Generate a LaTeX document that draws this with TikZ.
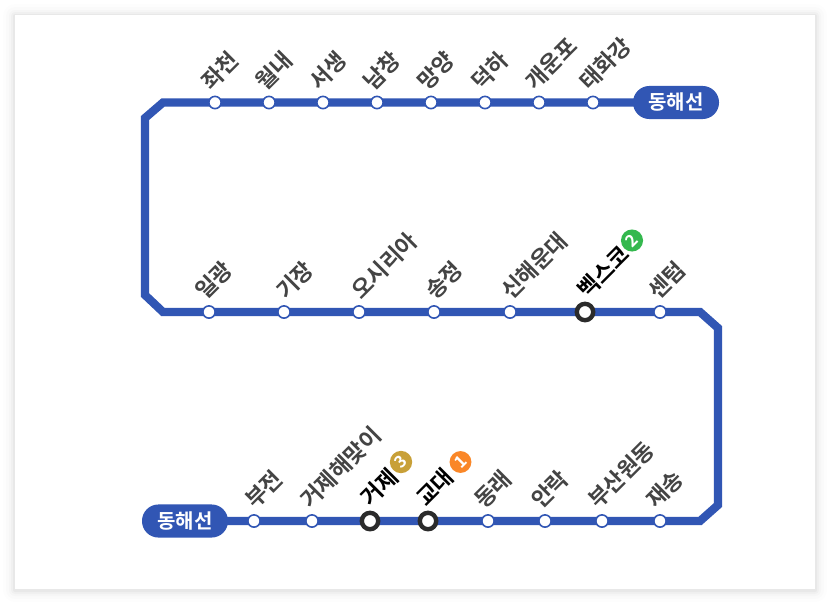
\documentclass[tikz,border=0pt]{standalone}
\usepackage{fontspec}
\usetikzlibrary{backgrounds}
\newfontfamily\kr{Noto Sans CJK KR Medium}[BoldFont={Noto Sans CJK KR Bold}]
\definecolor{lineblue}{HTML}{3156B4}
\definecolor{lbl}{HTML}{444444}
\definecolor{ring}{HTML}{2B2B2B}
\tikzset{
  x=0.75pt,y=-0.75pt,
  pill/.style={fill=lineblue,rounded corners=12.3pt,minimum width=64.5pt,minimum height=24.8pt,inner sep=0pt,text=white,font=\kr\bfseries\fontsize{15pt}{16pt}\selectfont},
  st/.style={circle,draw=lineblue,line width=1.2pt,fill=white,minimum size=9.2pt,inner sep=0pt},
  xfer/.style={circle,draw=ring,line width=3.3pt,fill=white,minimum size=12.3pt,inner sep=0pt},
  lab/.style={anchor=west,rotate=45,inner sep=0pt,text=lbl,font=\kr\bfseries\fontsize{16.8pt}{17pt}\selectfont},
  xlab/.style={lab,text=black},
  badge/.style={circle,minimum size=15.6pt,inner sep=0pt,text=white,font=\kr\bfseries\fontsize{12.5pt}{12pt}\selectfont},
  route/.style={draw=lineblue,line width=6.2pt,line join=miter}
}
\begin{document}
\begin{tikzpicture}
\useasboundingbox (0,0) rectangle (830,604);
% corners
\coordinate (c1) at (163,102.5);
\coordinate (c2) at (145,118);
\coordinate (c3) at (145,295);
\coordinate (c4) at (163,312);
\coordinate (c5) at (700,312);
\coordinate (c6) at (718,328);
\coordinate (c7) at (718,505);
\coordinate (c8) at (700,521);
\node[pill] (top) at (676,102.5) {동해선};
\node[pill] (bot) at (185,521) {동해선};
\begin{pgfonlayer}{background}
\fill[white] (0,0) rectangle (830,604);
\foreach \w/\o in {12/0.008,9/0.012,6/0.016,4/0.022,2/0.03}{
  \fill[black,opacity=\o,rounded corners=\w*0.75pt] (15-\w,15-\w+1) rectangle (815+\w,589+\w+1);
}
\fill[white] (15,15) rectangle (815,589);
\path[route] (top.center) -- (c1) -- (c2) -- (c3) -- (c4) -- (c5) -- (c6) -- (c7) -- (c8) -- (bot.center);
\end{pgfonlayer}
% stations with labels
\foreach \n/\x/\lx/\t in {a1/215/205/좌천,a2/269/259/월내,a3/323/313/서생,a4/377/367/남창,a5/431/421/망양,a6/485/475/덕하,a7/539/529/개운포,a8/593/583/태화강}{
  \node[st] (\n) at (\x,102.5) {};
  \node[lab] (\n t) at (\lx,85.5) {\t};
}
\foreach \n/\x/\lx/\t in {b1/209/199/일광,b2/284/280/기장,b3/359/355/오시리아,b4/434/429/송정,b5/510/505/신해운대,b7/660/652/센텀}{
  \node[st] (\n) at (\x,312) {};
  \node[lab] (\n t) at (\lx,295) {\t};
}
\node[xfer] (b6) at (585,312) {};
\node[xlab] (b6t) at (581.5,294) {벡스코};
\node[badge,fill={rgb,255:red,52;green,184;blue,78}] (b6b) at (632,240.5) {\rotatebox{45}{2}};
\foreach \n/\x/\lx/\t in {d1/254/249/부전,d2/312/304/거제해맞이,d5/488/478/동래,d6/545/535/안락,d7/602/592/부산원동,d8/660/650/재송}{
  \node[st] (\n) at (\x,521) {};
  \node[lab] (\n t) at (\lx,504) {\t};
}
\node[xfer] (d3) at (370,521) {};
\node[xlab] (d3t) at (364.5,502) {거제};
\node[badge,fill={rgb,255:red,200;green,160;blue,56}] (d3b) at (401,462) {\rotatebox{45}{3}};
\node[xfer] (d4) at (428,521) {};
\node[xlab] (d4t) at (420,502) {교대};
\node[badge,fill={rgb,255:red,250;green,135;blue,40}] (d4b) at (460.5,462) {\rotatebox{45}{1}};
\end{tikzpicture}
\end{document}
